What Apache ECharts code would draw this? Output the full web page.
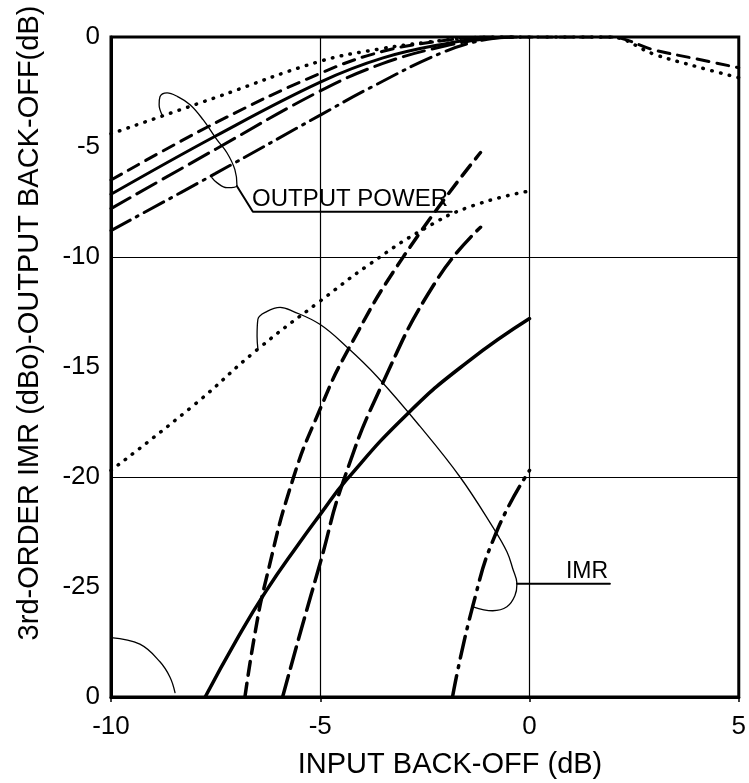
<!DOCTYPE html>
<html><head><meta charset="utf-8">
<script src="https://cdn.jsdelivr.net/npm/echarts@6/dist/echarts.min.js"></script>
<style>html,body{margin:0;padding:0;background:#fff}#c{width:749px;height:783px}</style>
</head><body><div id="c"></div>
<script>
// ---- axis ticks ----
const xTickVals = [-10, -5, 0, 5];
const yTickVals = [-30, -25, -20, -15, -10, -5, 0];
const yTickText = ['0', '-25', '-20', '-15', '-10', '-5', '0'];
const gridX = [-5, 0];
const gridY = [-10, -20];

// ---- OUTPUT POWER curves ----
const opDotX = [-10, -7.5, -5, -3.6, -2.5, -1.5, -0.5, 1.9, 3, 4, 5];
const opDotY = [-4.4, -2.75, -1.1, -0.55, -0.25, -0.05, 0, 0, -0.8, -1.35, -1.85];
const opDashX = [-10, -7.5, -5, -3.5, -2, -1, 1.9, 3, 4, 5];
const opDashY = [-6.5, -3.9, -1.65, -0.65, -0.15, 0, 0, -0.6, -1.0, -1.4];
const opSolidX = [-10, -7.5, -5, -3.5, -2, -1, -0.3];
const opSolidY = [-7.15, -4.5, -2.05, -0.95, -0.3, -0.05, 0];
const opLongX = [-10, -7.5, -5, -3.5, -2, -1, -0.3];
const opLongY = [-7.8, -5.1, -2.45, -1.2, -0.4, -0.08, 0];
const opDashDotX = [-10, -7.5, -5, -3.8, -2.1, -1, -0.3];
const opDashDotY = [-8.8, -6.2, -3.55, -2.3, -0.72, -0.1, 0];

// ---- IMR curves ----
const imrDotX = [-10, -8, -6.5, -5, -3.8, -2.5, -1.4, 0];
const imrDotY = [-19.7, -16.7, -14.2, -12.0, -10.3, -8.7, -7.7, -7.0];
const imrSolidX = [-7.75, -7, -6.3, -5.5, -5, -4.36, -2.9, -1.5, 0];
const imrSolidY = [-30, -27.4, -25.2, -23.0, -21.7, -20.1, -17.1, -14.8, -12.8];
const imrDashX = [-6.8, -6.55, -6.3, -5.67, -5, -4.33, -3.0, -1.17];
const imrDashY = [-30, -27.0, -24.7, -20.2, -16.9, -14.2, -9.95, -5.25];
const imrLongX = [-5.9, -5.45, -5, -4.45, -3.5, -2.2, -1.17];
const imrLongY = [-30, -26.9, -23.9, -20.2, -15.7, -11, -8.65];
const imrDashDotX = [-1.84, -1.36, -0.79, 0];
const imrDashDotY = [-30, -25.9, -22.5, -19.7];
const arcX = [-10, -9.31, -8.83, -8.59, -8.47];
const arcY = [-27.3, -27.6, -28.4, -29.1, -29.8];

// ---- callouts ----
const opCallX = [-8.78, -8.85, -8.83, -8.66, -8.40, -8.11, -7.80, -7.47, -7.23, -7.04, -6.99, -7.23, -7.47, -7.59];
const opCallY = [-3.54, -3.08, -2.72, -2.54, -2.72, -3.08, -3.76, -4.67, -5.26, -6.03, -6.75, -6.85, -6.62, -6.39];
const opLeadX = [-6.99, -6.61, -1.86];
const opLeadY = [-6.78, -7.94, -7.94];
const imrCallX = [-6.49, -6.51, -6.49, -6.27, -5.96, -5.65, -5.01, -4.36, -3.65, -2.62, -1.66, -0.88, -0.54, -0.40, -0.30, -0.35, -0.54, -0.88, -1.35];
const imrCallY = [-14.2, -13.6, -12.83, -12.47, -12.29, -12.47, -13.06, -14.10, -15.42, -17.69, -20.0, -22.27, -23.40, -24.17, -24.85, -25.40, -25.90, -26.08, -25.90];
const imrLeadX = [-0.30, 1.92];
const imrLeadY = [-24.85, -24.85];

const FONT = "'Liberation Sans', Arial, sans-serif";
const zip = (xs, ys) => xs.map((x, i) => [x, ys[i]]);

function curve(xs, ys, type, width, smooth, extra) {
  return Object.assign({
    type: 'line', data: zip(xs, ys), showSymbol: false, symbol: 'none',
    smooth: smooth, silent: true, animation: false,
    lineStyle: { color: '#000', width: width, type: type, cap: 'round' }
  }, extra || {});
}
const DOT = [0.5, 8.5];

const chart = echarts.init(document.getElementById('c'), null, { renderer: 'canvas' });
chart.setOption({
  animation: false,
  backgroundColor: '#fff',
  grid: { left: 111, right: 10, top: 37, bottom: 86, show: true, borderColor: '#000', borderWidth: 3, containLabel: false },
  xAxis: {
    type: 'value', min: -10, max: 5, interval: 5,
    axisLine: { show: true, onZero: false, lineStyle: { color: '#000', width: 3 } },
    axisTick: { show: true, length: 5, lineStyle: { color: '#000', width: 1.5 } },
    axisLabel: { color: '#000', fontSize: 26, fontFamily: FONT, margin: 17,
      formatter: v => xTickVals.indexOf(v) >= 0 ? String(v) : '' },
    splitLine: { show: false }
  },
  yAxis: {
    type: 'value', min: -30, max: 0, interval: 5,
    axisLine: { show: true, onZero: false, lineStyle: { color: '#000', width: 3 } },
    axisTick: { show: false },
    axisLabel: { color: '#000', fontSize: 26, fontFamily: FONT, margin: 11,
      formatter: v => { const i = yTickVals.indexOf(v); return i >= 0 ? yTickText[i] : ''; } },
    splitLine: { show: false }
  },
  graphic: [
    { type: 'text', x: 30, y: 323, rotation: Math.PI / 2,
      style: { text: '3rd-ORDER IMR (dBo)-OUTPUT BACK-OFF(dB)', font: '29px ' + FONT, fill: '#000', textAlign: 'center', textVerticalAlign: 'middle' } },
    { type: 'text', x: 450, y: 765,
      style: { text: 'INPUT BACK-OFF (dB)', font: '29px ' + FONT, fill: '#000', textAlign: 'center', textVerticalAlign: 'middle' } },
    { type: 'text', x: 350, y: 199,
      style: { text: 'OUTPUT POWER', font: '24px ' + FONT, fill: '#000', textAlign: 'center', textVerticalAlign: 'middle' } },
    { type: 'text', x: 587, y: 572,
      style: { text: 'IMR', font: '23px ' + FONT, fill: '#000', textAlign: 'center', textVerticalAlign: 'middle' } }
  ],
  series: [
    { type: 'line', data: [], silent: true,
      markLine: { silent: true, symbol: 'none', label: { show: false },
        lineStyle: { color: '#000', width: 1.2, type: 'solid' },
        data: gridX.map(v => ({ xAxis: v })).concat(gridY.map(v => ({ yAxis: v }))) } },
    curve(opDotX, opDotY, DOT, 3.5, 0.4),
    curve(opDashX, opDashY, [12, 8], 3, 0.4),
    curve(opSolidX, opSolidY, 'solid', 3, 0.4),
    curve(opLongX, opLongY, [22, 8], 3, 0.4),
    curve(opDashDotX, opDashDotY, [22, 7, 2, 7], 3, 0.4),
    curve(imrDotX, imrDotY, DOT, 3.5, 0.5),
    curve(imrSolidX, imrSolidY, 'solid', 3.5, 0.5),
    curve(imrDashX, imrDashY, [14, 8], 3.5, 0.5),
    curve(imrLongX, imrLongY, [22, 8], 3.5, 0.5),
    curve(imrDashDotX, imrDashDotY, [22, 8, 2, 8], 3.5, 0.5),
    curve(arcX, arcY, 'solid', 1.3, 0.4),
    curve(opCallX, opCallY, 'solid', 1.3, 0.4),
    curve(opLeadX, opLeadY, 'solid', 2, false),
    curve(imrCallX, imrCallY, 'solid', 1.3, 0.4),
    curve(imrLeadX, imrLeadY, 'solid', 2, false)
  ]
});
</script></body></html>
